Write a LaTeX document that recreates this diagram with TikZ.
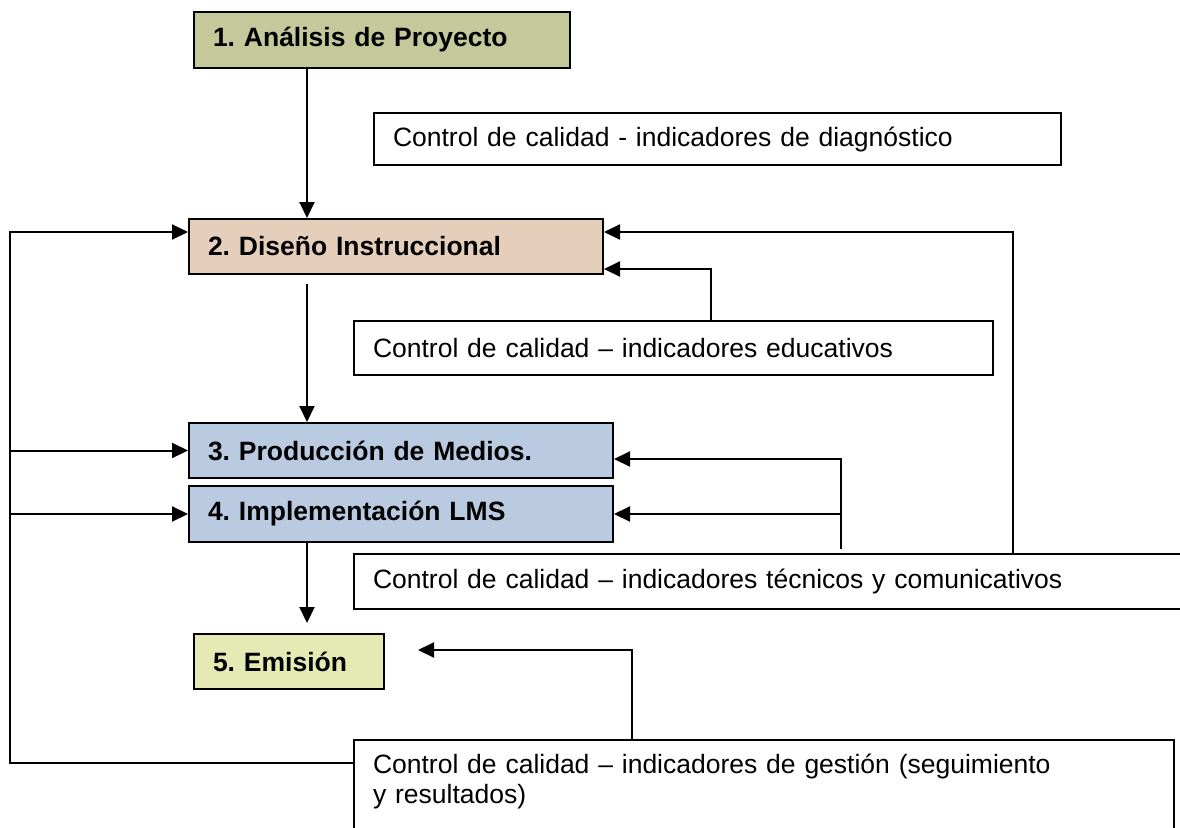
\documentclass[tikz,border=0pt]{standalone}
\usepackage{fontspec}
\setmainfont{Liberation Sans}
\usetikzlibrary{positioning}
\usetikzlibrary{arrows.meta}
\frenchspacing

\definecolor{analisis}{RGB}{196,200,155}
\definecolor{diseno}{RGB}{229,207,187}
\definecolor{medios}{RGB}{185,202,225}
\definecolor{emision}{RGB}{229,234,180}

\begin{document}
\begin{tikzpicture}[x=1pt, y=-1pt]
\useasboundingbox (0,0) rectangle (1180,827);
\clip (0,0) rectangle (1180,827);

\begin{scope}[every node/.style={draw, line width=2pt, anchor=north west, inner xsep=19pt,
                                 inner ysep=2pt, align=left,
                                 font=\fontsize{26.5}{30}\selectfont}]
  \node[fill=analisis, font=\fontsize{26.5}{30}\selectfont\bfseries,
        text width=338pt, minimum height=56pt] (p1) at (193,11) {1. Análisis de Proyecto};
  \node[text width=649pt, minimum height=52pt] (diag) at (373,112)
        {Control de calidad - indicadores de diagnóstico};
  \node[fill=diseno, font=\fontsize{26.5}{30}\selectfont\bfseries,
        text width=376pt, minimum height=55pt] (p2) at (188,218) {2. Diseño Instruccional};
  \node[text width=601pt, minimum height=54pt] (edu) at (353,320)
        {Control de calidad – indicadores educativos};
  \node[fill=medios, font=\fontsize{26.5}{30}\selectfont\bfseries,
        text width=386pt, minimum height=55pt] (p3) at (188,422) {3. Producción de Medios.};
  \node[fill=medios, font=\fontsize{26.5}{30}\selectfont\bfseries,
        text width=386pt, minimum height=56pt] (p4) at (188,485) {4. Implementación LMS};
  \node[text width=822pt, minimum height=55pt] (tec) at (353,553)
        {Control de calidad – indicadores técnicos y comunicativos};
  \node[fill=emision, font=\fontsize{26.5}{30}\selectfont\bfseries,
        text width=152pt, minimum height=55pt] (p5) at (193,633) {5. Emisión};
  \node[text width=782pt, inner ysep=14pt] (gest) at (353,739)
        {Control de calidad – indicadores de gestión (seguimiento\\
         y resultados)\rule[-60pt]{0pt}{0pt}};
\end{scope}

% corners of the feedback lines
\coordinate (axis) at (307,0);
\coordinate (busL) at (10,232);
\coordinate (busLb) at (10,763);
\coordinate (busR) at (1013,232);
\coordinate (eduR) at (711,269);
\coordinate (tecR) at (841,459);
\coordinate (gesR) at (632,650);
\coordinate (gesT) at (418,650);

\begin{scope}[>={Triangle[length=16pt, width=15pt]}, line width=2pt]
    % main flow
    \draw[->] (p1.south -| axis) -- (p2.north -| axis);
    \draw[->] ([yshift=-9pt]p2.south -| axis) -- (p3.north -| axis);
    \draw[->, shorten >=10pt] (p4.south -| axis) -- (p5.north -| axis);

    % gestion back to every stage
    \draw[->] (gest.west |- busLb) -- (busLb) -- (busL) -- (p2.west |- busL);
    \draw[->] (busL |- p3.west) -- (p3.west);
    \draw[->] (busL |- p4.west) -- (p4.west);
    \draw[->] (gest.north -| gesR) -- (gesR) -- (gesT);

    % educativos
    \draw[->] (edu.north -| eduR) -- (eduR) -- (p2.east |- eduR);

    % tecnicos
    \draw[->] (tec.north -| busR) -- (busR) -- (p2.east |- busR);
    \draw[->] ([yshift=4pt]tec.north -| tecR) -- (tecR) -- (p3.east |- tecR);
    \draw[->] (tecR |- p4.east) -- (p4.east);
\end{scope}
\end{tikzpicture}
\end{document}
